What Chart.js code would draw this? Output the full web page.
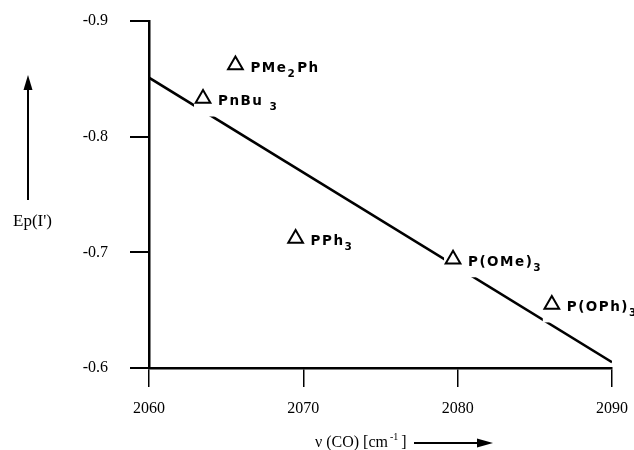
<!DOCTYPE html>
<html>
<head>
<meta charset="utf-8">
<script src="https://cdn.jsdelivr.net/npm/chart.js@4/dist/chart.umd.min.js"></script>
<style>
  body { margin: 0; background: #fff; }
  canvas { display: block; }
</style>
</head>
<body>
<canvas id="myChart" width="634" height="450"></canvas>
<script>
// ligand points (v(CO) vs Ep)
const ligands = ['PMe_2Ph', 'PnBu _3', 'PPh_3', 'P(OMe)_3', 'P(OPh)_3'];
const nuCO = [2065.6, 2063.5, 2069.5, 2079.7, 2086.1];
const ep = [-0.862, -0.833, -0.712, -0.694, -0.655];

// fitted line end points
const fitX = [2060, 2090];
const fitY = [-0.851, -0.605];

const xTicks = [2060, 2070, 2080, 2090];
const yTicks = [-0.9, -0.8, -0.7, -0.6];

const serif = "'Liberation Serif', 'Times New Roman', serif";
const sans = "'DejaVu Sans', Arial, sans-serif";
const spacing = '1.5px';

// split 'PMe_2Ph' into normal / subscript pieces
function pieces(label) {
    const out = [];
    let i = 0;
    while (i < label.length) {
        if (label[i] === '_') {
            out.push({ t: label[i + 1], sub: true });
            i += 2;
        } else {
            let j = i;
            while (j < label.length && label[j] !== '_') j++;
            out.push({ t: label.slice(i, j), sub: false });
            i = j;
        }
    }
    return out;
}

function labelWidth(ctx, label) {
    let w = 0;
    pieces(label).forEach(p => {
        ctx.font = p.sub ? 'bold 10.5px ' + sans : 'bold 13.5px ' + sans;
        w += ctx.measureText(p.t).width + (p.sub ? 1 : 0);
    });
    return w;
}

const labelPlugin = {
    id: 'labelPlugin',
    afterDatasetDraw(chart, args) {
        // white boxes behind labels break the fitted line
        if (args.index !== 0) return;
        const ctx = chart.ctx;
        const xs = chart.scales.x, ys = chart.scales.y;
        ctx.save();
        ctx.letterSpacing = spacing;
        ctx.fillStyle = '#fff';
        ligands.forEach((name, i) => {
            const cx = xs.getPixelForValue(nuCO[i]);
            const cy = ys.getPixelForValue(ep[i]) + 2;
            const w = labelWidth(ctx, name);
            ctx.fillRect(cx - 9, cy - 11, 15 + w + 12, 27);
        });
        ctx.restore();
    },
    afterDatasetsDraw(chart) {
        const ctx = chart.ctx;
        const xs = chart.scales.x, ys = chart.scales.y;
        ctx.save();
        ctx.letterSpacing = spacing;
        ctx.fillStyle = '#000';
        ctx.textBaseline = 'alphabetic';
        ctx.textAlign = 'left';
        ligands.forEach((name, i) => {
            const cx = xs.getPixelForValue(nuCO[i]);
            const cy = ys.getPixelForValue(ep[i]) + 2;
            let x = cx + 15;
            pieces(name).forEach(p => {
                if (p.sub) {
                    ctx.font = 'bold 10.5px ' + sans;
                    ctx.fillText(p.t, x, cy + 10);
                    x += ctx.measureText(p.t).width + 1;
                } else {
                    ctx.font = 'bold 13.5px ' + sans;
                    ctx.fillText(p.t, x, cy + 5);
                    x += ctx.measureText(p.t).width;
                }
            });
        });
        ctx.letterSpacing = '0px';

        // y axis title with arrow
        ctx.font = '17px ' + serif;
        ctx.fillText("Ep(I')", 13, 226);
        ctx.strokeStyle = '#000';
        ctx.lineWidth = 2;
        ctx.beginPath();
        ctx.moveTo(28, 200);
        ctx.lineTo(28, 86);
        ctx.stroke();
        ctx.beginPath();
        ctx.moveTo(28, 75);
        ctx.lineTo(23.5, 90);
        ctx.lineTo(32.5, 90);
        ctx.closePath();
        ctx.fill();

        // x axis title with arrow
        ctx.font = '16px ' + serif;
        let tx = 315;
        const base = 447;
        ctx.fillText('ν (CO) [cm', tx, base);
        tx += ctx.measureText('ν (CO) [cm').width + 2;
        ctx.font = '10px ' + serif;
        ctx.fillText('-1', tx, base - 7);
        tx += ctx.measureText('-1').width + 3;
        ctx.font = '16px ' + serif;
        ctx.fillText(']', tx, base);
        ctx.beginPath();
        ctx.moveTo(414, 443);
        ctx.lineTo(482, 443);
        ctx.stroke();
        ctx.beginPath();
        ctx.moveTo(493, 443);
        ctx.lineTo(477, 438.5);
        ctx.lineTo(477, 447.5);
        ctx.closePath();
        ctx.fill();
        ctx.restore();
    }
};

const ctx = document.getElementById('myChart').getContext('2d');
new Chart(ctx, {
    type: 'scatter',
    data: {
        datasets: [
            {
                label: 'fit',
                data: fitX.map((x, i) => ({ x: x, y: fitY[i] })),
                showLine: true,
                borderColor: '#000',
                borderWidth: 2.5,
                pointRadius: 0,
                order: 1
            },
            {
                label: 'ligands',
                data: nuCO.map((x, i) => ({ x: x, y: ep[i] })),
                showLine: false,
                pointStyle: 'triangle',
                pointRadius: 8.5,
                pointBorderWidth: 2,
                pointBorderColor: '#000',
                pointBackgroundColor: 'rgba(255,255,255,0)',
                order: 0
            }
        ]
    },
    options: {
        responsive: false,
        animation: false,
        layout: { padding: { top: 21, right: 22, left: 0, bottom: 0 } },
        plugins: {
            legend: { display: false },
            tooltip: { enabled: false }
        },
        scales: {
            x: {
                type: 'linear',
                min: 2060,
                max: 2090,
                afterBuildTicks: s => { s.ticks = xTicks.map(v => ({ value: v })); },
                afterFit: s => {
                    s.height = 82;
                    s.paddingLeft = 0;
                    s.paddingRight = 0;
                },
                ticks: {
                    color: '#000',
                    font: { family: serif, size: 16 },
                    padding: 12,
                    callback: v => String(v)
                },
                grid: {
                    drawOnChartArea: false,
                    tickLength: 19,
                    color: '#000',
                    lineWidth: 1.5
                },
                border: { color: '#000', width: 2.5 }
            },
            y: {
                type: 'linear',
                min: -0.9,
                max: -0.6,
                reverse: true,
                afterBuildTicks: s => { s.ticks = yTicks.map(v => ({ value: v })); },
                afterFit: s => {
                    s.width = 149;
                    s.paddingTop = 0;
                    s.paddingBottom = 0;
                },
                ticks: {
                    color: '#000',
                    font: { family: serif, size: 16 },
                    padding: 22,
                    callback: v => v.toFixed(1)
                },
                grid: {
                    drawOnChartArea: false,
                    tickLength: 19,
                    color: '#000',
                    lineWidth: 2
                },
                border: { color: '#000', width: 2.5 }
            }
        }
    },
    plugins: [labelPlugin]
});
</script>
</body>
</html>
